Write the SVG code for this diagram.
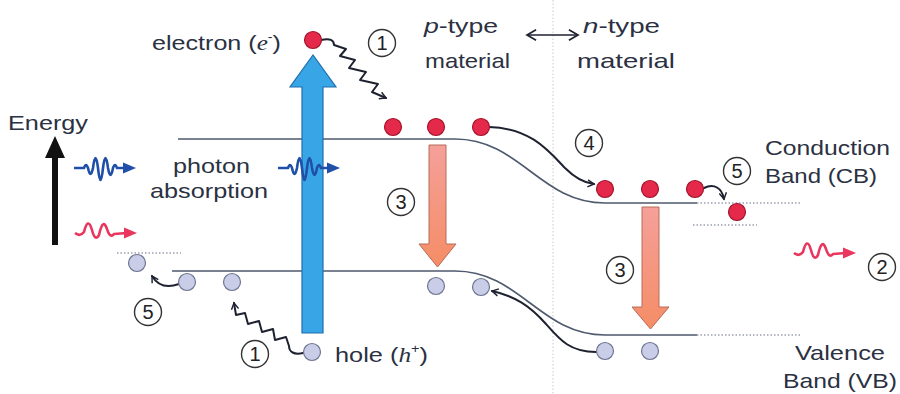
<svg xmlns="http://www.w3.org/2000/svg" width="900" height="394" viewBox="0 0 900 394">
<style>
text{font-family:"Liberation Sans",Arial,sans-serif;font-size:21px;fill:#2b3142}
.num{font-size:20px;text-anchor:middle;fill:#222}
.ring{fill:#fff;stroke:#333;stroke-width:1.4}
.band{fill:none;stroke:#4f5a6e;stroke-width:1.6}
.dot{fill:none;stroke:#6a7288;stroke-width:1.2;stroke-dasharray:1.5 2}
.e{fill:#e5294a;stroke:#a3152c;stroke-width:1.2}
.h{fill:#c9cde8;stroke:#6e7590;stroke-width:1.2}
.conn{fill:none;stroke:#1e2230;stroke-width:2;stroke-linejoin:round;stroke-linecap:round}
.sal{fill:url(#salg);stroke:#b86a58;stroke-width:1}
</style>
<defs>
<linearGradient id="salg" x1="0" y1="0" x2="0" y2="1">
<stop offset="0" stop-color="#f5a09a"/>
<stop offset="1" stop-color="#f58d66"/>
</linearGradient>
<marker id="chev" viewBox="0 0 10 10" refX="8" refY="5" markerWidth="9" markerHeight="9" markerUnits="userSpaceOnUse" orient="auto-start-reverse">
<path d="M1,1 L8,5 L1,9" fill="none" stroke="#1e2230" stroke-width="1.6"/>
</marker>
<marker id="chev2" viewBox="0 0 10 10" refX="8" refY="5" markerWidth="13" markerHeight="13" markerUnits="userSpaceOnUse" orient="auto-start-reverse">
<path d="M1,1 L8,5 L1,9" fill="none" stroke="#1e2230" stroke-width="1.3"/>
</marker>
<g id="bluewave">
<path d="M0,0 L10,0 Q12,-6 14,0 Q16.5,12 19,0 Q21.5,-20 24,0 Q26.5,24 29,0 Q31.5,-20 34,0 Q36.5,14 39,0 Q41,-6 43,0 L52,0" fill="none" stroke="#1f4fa8" stroke-width="2.6" stroke-linejoin="round"/>
<polygon points="49,-5.5 62,0 49,5.5" fill="#1f4fa8"/>
</g>
<g id="redwave">
<path d="M0,0 Q5,4 9,-1 Q13,-17 17,-3 Q20,9 24,2 Q28,-16 32,-4 Q35,6 39,1 L52,0" fill="none" stroke="#e8365e" stroke-width="2.6" stroke-linejoin="round"/>
<polygon points="49,-5.5 62,0 49,5.5" fill="#e8365e"/>
</g>
</defs>
<rect width="900" height="394" fill="#fff"/>

<g id="separator">
<line x1="553" y1="0" x2="553" y2="394" stroke="#c9c9c9" stroke-width="1" stroke-dasharray="1.5 2"/>
</g>

<g id="bands">
<path class="band" d="M178,139 L455,139 C520,139 540,203 605,203 L697,203"/>
<path class="dot" d="M697,203 L800,203"/>
<path class="dot" d="M693,225 L757,225"/>
<path class="band" d="M172,271 L455,271 C520,271 540,335 605,335 L697,335"/>
<path class="dot" d="M697,335 L800,335"/>
<path class="dot" d="M117,253 L181,253"/>
</g>

<g id="energy-axis">
<rect x="52" y="157" width="6" height="88" fill="#111"/>
<polygon points="55,136 45,158 65,158" fill="#111"/>
<text x="8" y="130" textLength="80" lengthAdjust="spacingAndGlyphs">Energy</text>
</g>

<g id="photons">
<use href="#bluewave" x="74" y="168"/>
<use href="#redwave" x="75" y="233"/>
<text x="173" y="173" textLength="77" lengthAdjust="spacingAndGlyphs">photon</text>
<text x="150" y="198" textLength="118" lengthAdjust="spacingAndGlyphs">absorption</text>
</g>

<g id="excitation-arrow">
<polygon points="302,333 302,87 290,87 313,55 336,87 323,87 323,333" fill="#38a6e6" stroke="#1f6eae" stroke-width="1.2"/>
<use href="#bluewave" x="278" y="168"/>
</g>

<g id="recombination-arrows">
<polygon class="sal" points="429,145 446,145 446,244 456,244 437.5,267 419,244 429,244"/>
<polygon class="sal" points="642,207 659,207 659,307 669,307 650.5,329 632,307 642,307"/>
</g>

<g id="emission">
<use href="#redwave" x="794" y="253"/>
</g>

<g id="connectors">
<path class="conn" d="M321,40 C330,38 334,40 334,45 L346,49 L340,56 L355,60 L349,68 L366,72 L360,80 L378,84 L372,92 L386,98" marker-end="url(#chev)" stroke-width="1.8"/>
<path class="conn" d="M303,353 C294,355 289,352 289,346 L286,337 L275,340 L273,329 L262,332 L259,321 L248,324 L245,313 L236,315 L234,303" marker-end="url(#chev)" stroke-width="1.8"/>
<path class="conn" d="M179,284 C168,288 158,286 152,276" marker-end="url(#chev)"/>
<path class="conn" d="M704,188 C714,183 722,188 724,199" marker-end="url(#chev)"/>
<path class="conn" d="M489,127 C530,128 548,150 565,168 C575,178 584,183 594,184" marker-end="url(#chev)"/>
<path class="conn" d="M596,352 C570,352 560,340 546,324 C530,306 515,296 492,291" marker-end="url(#chev)"/>
<line x1="527" y1="35" x2="578" y2="35" stroke="#1e2230" stroke-width="1.5" marker-start="url(#chev2)" marker-end="url(#chev2)"/>
</g>

<g id="electrons">
<circle class="e" cx="313" cy="40" r="8.5"/>
<circle class="e" cx="393" cy="127" r="8.5"/>
<circle class="e" cx="436" cy="127" r="8.5"/>
<circle class="e" cx="481" cy="127" r="8.5"/>
<circle class="e" cx="605" cy="189" r="8.5"/>
<circle class="e" cx="650" cy="189" r="8.5"/>
<circle class="e" cx="695" cy="189" r="8.5"/>
<circle class="e" cx="737" cy="212" r="8.5"/>
</g>

<g id="holes">
<circle class="h" cx="137" cy="263" r="8.5"/>
<circle class="h" cx="187" cy="282" r="8.5"/>
<circle class="h" cx="232" cy="282" r="8.5"/>
<circle class="h" cx="312" cy="352" r="8.5"/>
<circle class="h" cx="436" cy="286" r="8.5"/>
<circle class="h" cx="481" cy="287" r="8.5"/>
<circle class="h" cx="605" cy="351" r="8.5"/>
<circle class="h" cx="650" cy="351" r="8.5"/>
</g>

<g id="step1-top"><circle class="ring" cx="382" cy="43" r="13.5"/><text class="num" x="382" y="50">1</text></g>
<g id="step1-bottom"><circle class="ring" cx="255" cy="354" r="13.5"/><text class="num" x="255" y="361">1</text></g>
<g id="step2"><circle class="ring" cx="882" cy="267" r="13.5"/><text class="num" x="882" y="274">2</text></g>
<g id="step3-left"><circle class="ring" cx="401" cy="202" r="13.5"/><text class="num" x="401" y="209">3</text></g>
<g id="step3-right"><circle class="ring" cx="620" cy="270" r="13.5"/><text class="num" x="620" y="277">3</text></g>
<g id="step4"><circle class="ring" cx="589" cy="143" r="13.5"/><text class="num" x="589" y="150">4</text></g>
<g id="step5-right"><circle class="ring" cx="737" cy="171" r="13.5"/><text class="num" x="737" y="178">5</text></g>
<g id="step5-left"><circle class="ring" cx="148" cy="312" r="13.5"/><text class="num" x="148" y="319">5</text></g>

<g id="labels">
<text x="152" y="50" textLength="129" lengthAdjust="spacingAndGlyphs">electron (<tspan font-family="Liberation Serif" font-style="italic">e</tspan><tspan font-size="12" dy="-9">-</tspan><tspan dy="9">)</tspan></text>
<text x="424" y="33" textLength="74" lengthAdjust="spacingAndGlyphs"><tspan font-style="italic">p</tspan>-type</text>
<text x="425" y="68" textLength="85" lengthAdjust="spacingAndGlyphs">material</text>
<text x="583" y="33" textLength="77" lengthAdjust="spacingAndGlyphs"><tspan font-style="italic">n</tspan>-type</text>
<text x="577" y="68" textLength="98" lengthAdjust="spacingAndGlyphs">material</text>
<text x="765" y="155" textLength="125" lengthAdjust="spacingAndGlyphs">Conduction</text>
<text x="765" y="183" textLength="112" lengthAdjust="spacingAndGlyphs">Band (CB)</text>
<text x="795" y="360" textLength="90" lengthAdjust="spacingAndGlyphs">Valence</text>
<text x="783" y="388" textLength="114" lengthAdjust="spacingAndGlyphs">Band (VB)</text>
<text x="335" y="362" textLength="93" lengthAdjust="spacingAndGlyphs">hole (<tspan font-family="Liberation Serif" font-style="italic">h</tspan><tspan font-size="12" dy="-9">+</tspan><tspan dy="9">)</tspan></text>
</g>
</svg>
